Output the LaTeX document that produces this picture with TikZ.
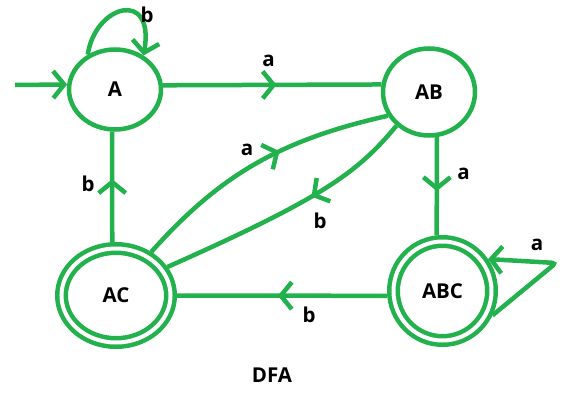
\documentclass[tikz,border=0pt]{standalone}
\usepackage{fontspec}
\setmainfont{Open Sans}
\usetikzlibrary{arrows.meta,shapes.geometric,decorations.markings}
\definecolor{pgreen}{RGB}{34,177,76}
\begin{document}
\begin{tikzpicture}[x=1pt,y=-1pt,
  txt/.style={font=\fontsize{20.5}{24}\selectfont\bfseries, text=black},
  state/.style={ellipse, draw=pgreen, line width=4.5pt, inner sep=0pt, fill=white, txt},
  accept/.style={ellipse, draw=pgreen, line width=4.5pt, double=white, double distance=4pt, inner sep=0pt, outer sep=6.5pt, txt},
  edge/.style={draw=pgreen, line width=4.5pt},
  midarrow/.style={postaction={decorate}, decoration={markings, mark=at position #1 with {\arrow{Straight Barb[length=11pt,width=27pt]}}}},
  lbl/.style={txt, inner sep=0pt}
]
\useasboundingbox (0,0) rectangle (564,412);

\node[state, minimum width=92pt, minimum height=80pt] (A) at (115,89.5) {A};
\node[state, minimum width=92pt, minimum height=87pt] (AB) at (429,92) {AB};
\node[accept, minimum width=109pt, minimum height=94pt] (AC) at (116,295.5) {AC};
\node[accept, minimum width=98pt, minimum height=99pt] (ABC) at (442.5,291) {ABC};

\coordinate (start) at (15,85);
\coordinate (loopc) at (556,263);

% start arrow
\draw[edge, -{Straight Barb[length=11pt,width=27pt]}] (start) -- (A.174.7);
% A -> AB
\draw[edge, midarrow=0.52] (A.5.3) -- (AB.171.7);
% AB -> ABC
\draw[edge, midarrow=0.55] (AB.-80) -- (ABC.96);
% AC -> A
\draw[edge, midarrow=0.57] (AC.94.3) -- (A.-94);
% ABC -> AC
\draw[edge, midarrow=0.52] (ABC.185.2) -- (AC.east);
% AC -> AB (a)
\draw[edge, midarrow=0.59] (AC.51.3) .. controls (220,175) and (280,140) .. (AB.210.5);
% AB -> AC (b)
\draw[edge, midarrow=0.41] (AB.226.8) .. controls (358,172) and (325,197) .. (AC.29.2);
% A self loop
\draw[edge, -{Straight Barb[length=11pt,width=27pt]}] (A.128.7) .. controls (95,5) and (155,-12) .. (A.50.6);
% ABC self loop
\draw[edge, rounded corners=4pt, -{Straight Barb[length=11pt,width=27pt]}] (ABC.-26.3) -- (loopc) -- (ABC.35.1);

% labels
\node[lbl] (lb1) at (147,15) {b};
\node[lbl] (la1) at (268.5,61) {a};
\node[lbl] (la2) at (463.5,174) {a};
\node[lbl] (lb2) at (88,183.5) {b};
\node[lbl] (lb3) at (309,314.5) {b};
\node[lbl] (la3) at (247,150) {a};
\node[lbl] (lb4) at (320,221) {b};
\node[lbl] (la4) at (537,245) {a};
\node[lbl] (dfa) at (272,375.5) {DFA};
\end{tikzpicture}
\end{document}
